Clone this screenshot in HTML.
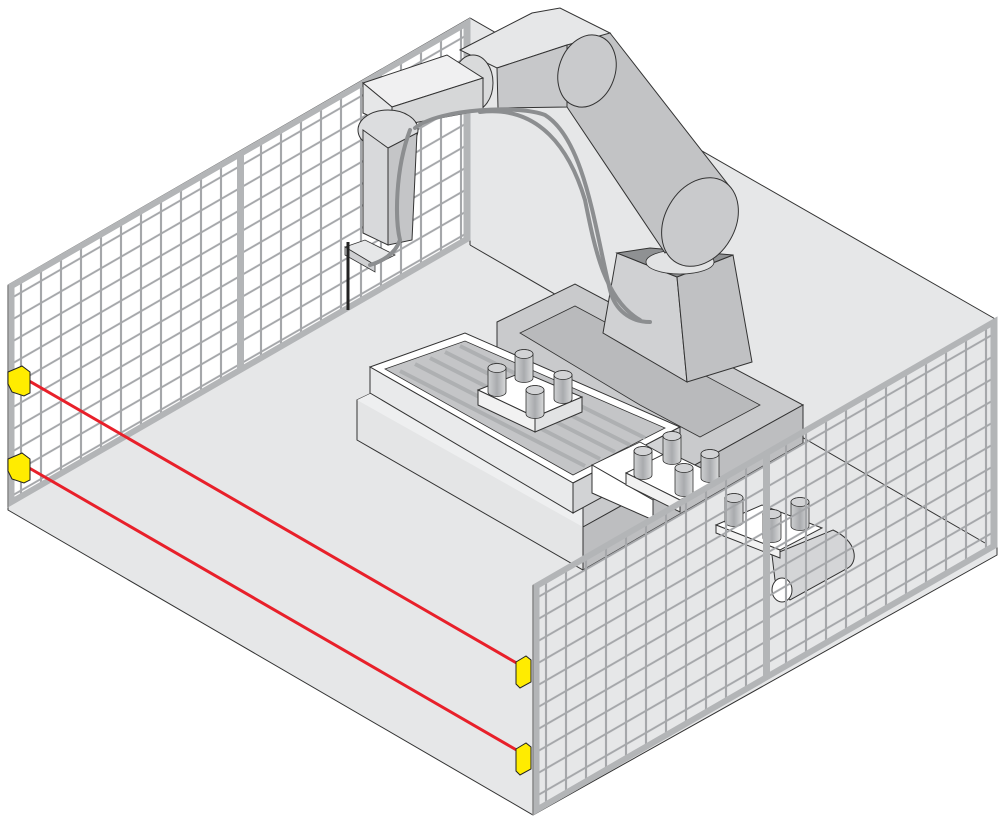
<!DOCTYPE html>
<html><head><meta charset="utf-8"><style>html,body{margin:0;padding:0;background:#fff}svg{display:block}</style></head>
<body>
<svg width="1000" height="820" viewBox="0 0 1000 820" xmlns="http://www.w3.org/2000/svg">
<defs>
<pattern id="meshL" patternUnits="userSpaceOnUse" width="20" height="22" x="3" y="4">
<path d="M10 0V22M0 11H20" stroke="#a5a7aa" stroke-width="2.2" fill="none"/>
</pattern>
<pattern id="meshR" patternUnits="userSpaceOnUse" width="20" height="22" x="3" y="4">
<path d="M10 0V22M0 11H20" stroke="#a5a7aa" stroke-width="2.2" fill="none"/>
</pattern>
<linearGradient id="cyl" x1="0" x2="1" y1="0" y2="0">
<stop offset="0" stop-color="#cfd0d2"/><stop offset="0.5" stop-color="#a9abae"/><stop offset="1" stop-color="#dadbdc"/>
</linearGradient>
<g id="cy">
<path d="M-9 0V-24A9 4.5 0 0 1 9 -24V0A9 4.5 0 0 1 -9 0Z" fill="url(#cyl)" stroke="#333" stroke-width="0.8"/>
<ellipse cx="0" cy="-24" rx="9" ry="4.5" fill="#d2d3d5" stroke="#333" stroke-width="0.8"/>
</g>
</defs>

<polygon points="8,285 470,18 997,320 997,555 533,815 8,510" fill="#e6e7e8" stroke="#333" stroke-width="1"/>
<line x1="470" y1="18" x2="470" y2="245" stroke="#333" stroke-width="1"/>
<line x1="470" y1="245" x2="985" y2="543" stroke="#333" stroke-width="1"/>

<g transform="translate(8,285) skewY(-30)">
<rect x="0" y="0" width="462" height="222" fill="#fff"/>
<rect x="0" y="0" width="462" height="222" fill="url(#meshL)"/>
<rect x="3" y="3" width="456" height="216" fill="none" stroke="#b3b5b7" stroke-width="7"/>
<rect x="229" y="0" width="7" height="222" fill="#b3b5b7"/>
<line x1="0" y1="0" x2="0" y2="222" stroke="#888" stroke-width="1.5"/>
</g>

<polygon points="357,400 430,365 583,452 583,527 803,405 803,443 583,570 357,440" fill="#e4e5e6" stroke="#333" stroke-width="1"/>
<polygon points="357,400 430,365 583,452 583,527 357,400" fill="#eeeff0"/>
<polygon points="497,322 575,284 803,405 583,527 583,452 497,404" fill="#c9cacc" stroke="#333" stroke-width="1"/>
<polygon points="520,333 575,306 760,405 700,437 640,405" fill="#b9babc" stroke="#333" stroke-width="0.8"/>
<polygon points="583,527 803,405 803,443 583,570" fill="#bdbec0" stroke="#333" stroke-width="1"/>

<polygon points="370,367 465,333 680,427 573,483" fill="#fff" stroke="#333" stroke-width="1"/>
<polygon points="370,367 573,483 573,513 370,393" fill="#e9eaeb" stroke="#333" stroke-width="1"/>
<polygon points="573,483 680,427 680,455 573,513" fill="#d2d3d5" stroke="#333" stroke-width="1"/>
<polygon points="385,369 465,341 665,428 573,475" fill="#c4c5c7" stroke="#333" stroke-width="0.8"/>
<g stroke="#aeb0b2" stroke-width="4">
<line x1="400" y1="371" x2="585" y2="466"/><line x1="415" y1="364" x2="600" y2="459"/>
<line x1="430" y1="358" x2="615" y2="452"/><line x1="445" y1="352" x2="630" y2="445"/>
<line x1="460" y1="346" x2="645" y2="438"/>
</g>

<polygon points="603,333 617,253 677,277 687,382" fill="#d0d1d3" stroke="#333" stroke-width="1"/>
<polygon points="677,277 733,255 752,362 687,382" fill="#c0c1c3" stroke="#333" stroke-width="1"/>
<polygon points="617,253 650,248 733,255 677,277" fill="#8f9193" stroke="#333" stroke-width="1"/>
<ellipse cx="680" cy="262" rx="34" ry="12" fill="#e2e3e4" stroke="#333" stroke-width="0.8"/>

<polygon points="553,15 610,33 730,187 665,253 567,107" fill="#c2c3c5" stroke="#333" stroke-width="1"/>
<ellipse cx="700" cy="222" rx="35" ry="47" transform="rotate(30 700 222)" fill="#c9cacc" stroke="#333" stroke-width="1"/>
<polygon points="460,50 532,13 560,8 610,33 567,45 497,68" fill="#e6e7e8" stroke="#333" stroke-width="1"/>
<polygon points="497,68 567,45 567,107 498,108" fill="#c7c8ca" stroke="#333" stroke-width="1"/>
<ellipse cx="587" cy="71" rx="28" ry="37" transform="rotate(20 587 71)" fill="#c9cacc" stroke="#333" stroke-width="1"/>
<ellipse cx="473" cy="83" rx="20" ry="28" fill="#d9dadb" stroke="#333" stroke-width="1"/>
<polygon points="363,83 447,55 483,78 392,107" fill="#f0f0f1" stroke="#333" stroke-width="1"/>
<polygon points="392,107 483,78 483,110 392,127" fill="#d6d7d8" stroke="#333" stroke-width="1"/>
<polygon points="363,83 392,107 392,127 363,113" fill="#e6e7e8" stroke="#333" stroke-width="1"/>
<ellipse cx="388" cy="130" rx="30" ry="20" fill="#dcdddf" stroke="#333" stroke-width="1"/>
<polygon points="363,130 388,148 388,245 363,233" fill="#d8d9db" stroke="#333" stroke-width="1"/>
<polygon points="388,148 417,133 412,240 388,245" fill="#c4c5c7" stroke="#333" stroke-width="1"/>
<polygon points="345,247 365,240 395,255 375,265" fill="#e6e7e8" stroke="#333" stroke-width="0.8"/>
<polygon points="345,247 375,265 375,272 345,255" fill="#cfd0d2" stroke="#333" stroke-width="0.8"/>
<line x1="348" y1="242" x2="348" y2="310" stroke="#222" stroke-width="3"/>
<g fill="none" stroke="#8c8e90" stroke-width="4" stroke-linecap="round">
<path d="M410 130 C395 170 395 220 400 240 C395 255 380 262 370 265"/>
<path d="M415 128 C440 108 520 105 545 115 C585 140 595 230 610 290 C615 310 630 322 650 322"/>
<path d="M480 112 C540 105 570 150 585 200 C595 250 605 300 640 320"/>
</g>

<polygon points="592,465 640,442 700,475 653,500" fill="#fff" stroke="#333" stroke-width="0.8"/>
<polygon points="592,465 653,500 653,520 592,493" fill="#fff" stroke="#333" stroke-width="1"/>
<polygon points="478,390 523,372 582,397 535,417" fill="#fff" stroke="#333" stroke-width="1"/>
<polygon points="478,390 535,417 535,432 478,405" fill="#f2f2f2" stroke="#333" stroke-width="1"/>
<polygon points="535,417 582,397 582,412 535,432" fill="#e2e3e4" stroke="#333" stroke-width="1"/>
<use href="#cy" x="497" y="392"/><use href="#cy" x="524" y="378"/><use href="#cy" x="563" y="399"/><use href="#cy" x="535" y="414"/>
<polygon points="626,473 668,452 722,478 680,500" fill="#fff" stroke="#333" stroke-width="1"/>
<polygon points="626,473 680,500 680,512 626,485" fill="#f2f2f2" stroke="#333" stroke-width="1"/>
<use href="#cy" x="643" y="475"/><use href="#cy" x="672" y="460"/><use href="#cy" x="710" y="478"/><use href="#cy" x="684" y="492"/>
<path d="M772 555 L833 530 C858 542 858 562 848 568 L790 600 L775 580 Z" fill="#d4d5d7" stroke="#333" stroke-width="1"/>
<ellipse cx="782" cy="590" rx="10" ry="12" fill="#fff" stroke="#333" stroke-width="1"/>
<polygon points="716,525 762,505 822,528 780,550" fill="#fff" stroke="#333" stroke-width="1"/>
<polygon points="716,525 780,550 780,558 716,533" fill="#f2f2f2" stroke="#333" stroke-width="1"/>
<use href="#cy" x="734" y="522"/><use href="#cy" x="772" y="538"/><use href="#cy" x="800" y="526"/>

<line x1="24" y1="378" x2="520" y2="665" stroke="#e8202a" stroke-width="3"/>
<line x1="24" y1="465" x2="520" y2="752" stroke="#e8202a" stroke-width="3"/>

<g transform="translate(533,585) skewY(-30)">
<rect x="0" y="0" width="464" height="230" fill="url(#meshR)"/>
<rect x="3" y="3" width="458" height="224" fill="none" stroke="#b3b5b7" stroke-width="7"/>
<rect x="230" y="0" width="7" height="230" fill="#b3b5b7"/>
<line x1="0" y1="0" x2="0" y2="230" stroke="#888" stroke-width="1.5"/>
</g>

<g fill="#ffec00" stroke="#222" stroke-width="1">
<path d="M8 372 L22 366 L30 372 L30 393 L24 396 L12 392 L8 384 Z"/>
<path d="M8 459 L22 453 L30 459 L30 480 L24 483 L12 479 L8 471 Z"/>
<path d="M516 662 L526 656 L531 660 L531 682 L520 688 L516 684 Z"/>
<path d="M516 749 L526 743 L531 747 L531 769 L520 775 L516 771 Z"/>
</g>
</svg>
</body></html>
